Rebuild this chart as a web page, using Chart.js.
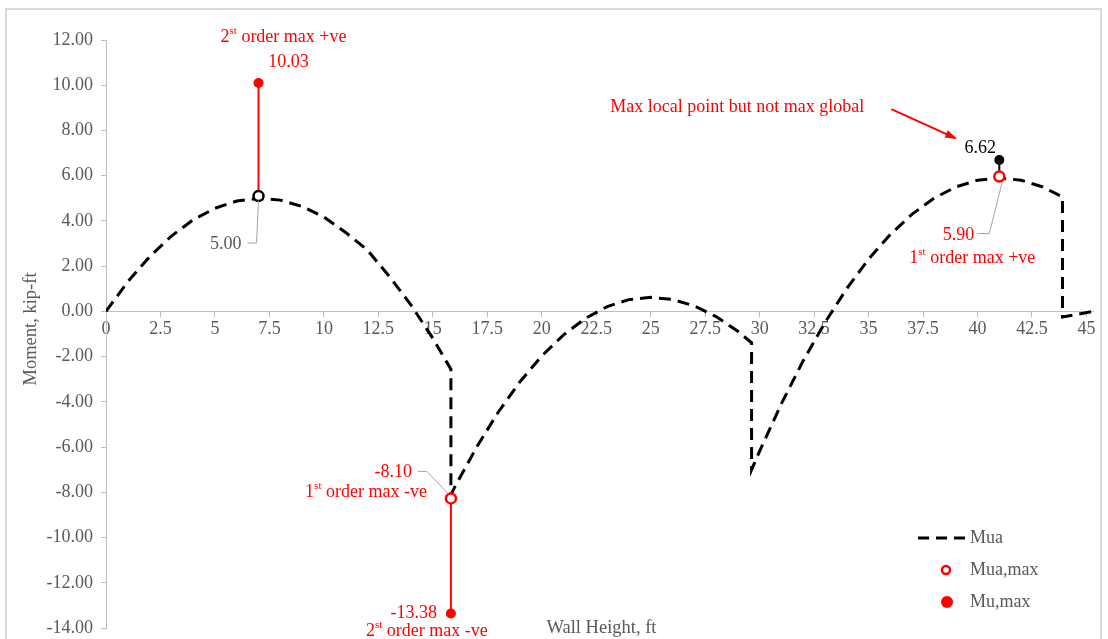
<!DOCTYPE html>
<html>
<head>
<meta charset="utf-8">
<script src="https://cdn.jsdelivr.net/npm/chart.js@4.4.1/dist/chart.umd.min.js"></script>
<style>
  html, body { margin: 0; padding: 0; background: #fff; }
  canvas { display: block; }
</style>
</head>
<body>
<canvas id="momentChart" width="1108" height="639"></canvas>
<script>
"use strict";

// Mua curve (wall height, ft / moment, kip-ft)
const muaX = [0, 1, 2, 3, 4, 5, 6, 7, 8, 9, 10, 11, 12, 13, 14, 15, 15.83,
    15.83, 16, 17, 18, 19, 20, 21, 22, 23, 24, 25, 26, 27, 28, 29, 29.63,
    29.63, 30, 31, 32, 33, 34, 35, 36, 37, 38, 39, 40, 41, 42, 43, 43.9,
    43.9, 45.3];
const muaY = [0, 1.31, 2.42, 3.33, 4.05, 4.56, 4.88, 5.00, 4.92, 4.64, 4.17, 3.49, 2.71, 1.55, 0.28, -1.19, -2.56,
    -8.10, -7.78, -6.02, -4.46, -3.11, -1.97, -1.04, -0.31, 0.21, 0.52, 0.62, 0.53, 0.24, -0.23, -0.88, -1.39,
    -7.00, -6.18, -4.08, -2.18, -0.49, 1.01, 2.31, 3.40, 4.30, 5.00, 5.50, 5.80, 5.90, 5.80, 5.50, 5.06,
    -0.25, 0.00];

// max points
const maxX = [7, 15.83, 41];
const muaMaxY = [5.1, -8.27, 5.96];
const muMaxY = [10.1, -13.36, 6.69];
const muaMaxLabels = ["5.00", "-8.10", "5.90"];
const muMaxLabels = ["10.03", "-13.38", "6.62"];

// axes
const xRange = [0, 45.3];
const yRange = [-14, 12];
const xStep = 2.5;
const yStep = 2;

const RED = "#ff0000";
const GREY = "#595959";
const FONT = "Liberation Serif, Times New Roman, serif";

const muaPoints = muaX.map((x, i) => ({ x: x, y: muaY[i] }));
const muaMaxPoints = maxX.map((x, i) => ({ x: x, y: muaMaxY[i] }));
const muMaxPoints = maxX.map((x, i) => ({ x: x, y: muMaxY[i] }));

// draws text with superscript parts, e.g. 2^st order ...
function drawRich(ctx, parts, x, y, align, color) {
    const big = "18px " + FONT;
    const small = "11px " + FONT;
    let w = 0;
    parts.forEach(p => {
        ctx.font = p.sup ? small : big;
        w += ctx.measureText(p.t).width;
    });
    let cx = align === "center" ? x - w / 2 : (align === "right" ? x - w : x);
    ctx.fillStyle = color;
    ctx.textAlign = "left";
    ctx.textBaseline = "middle";
    parts.forEach(p => {
        ctx.font = p.sup ? small : big;
        ctx.fillText(p.t, cx, p.sup ? y - 6 : y);
        cx += ctx.measureText(p.t).width;
    });
}

function leader(ctx, pts, color) {
    ctx.save();
    ctx.strokeStyle = color;
    ctx.lineWidth = 1;
    ctx.beginPath();
    pts.forEach((p, i) => i === 0 ? ctx.moveTo(p[0], p[1]) : ctx.lineTo(p[0], p[1]));
    ctx.stroke();
    ctx.restore();
}

const framePlugin = {
    id: "frame",
    beforeDraw(chart) {
        const ctx = chart.ctx;
        ctx.save();
        ctx.fillStyle = "#fff";
        ctx.fillRect(0, 0, chart.width, chart.height);
        ctx.strokeStyle = "#d9d9d9";
        ctx.lineWidth = 2;
        ctx.strokeRect(6, 9, 1095, 700);
        ctx.restore();
    }
};

const notesPlugin = {
    id: "notes",
    afterDraw(chart) {
        const ctx = chart.ctx;
        const xs = chart.scales.x, ys = chart.scales.y;
        const a = maxX.map((x, i) => [xs.getPixelForValue(x), ys.getPixelForValue(muaMaxY[i])]);
        const b = maxX.map((x, i) => [xs.getPixelForValue(x), ys.getPixelForValue(muMaxY[i])]);
        ctx.save();

        // 2nd order max +ve
        drawRich(ctx, [{ t: "2" }, { t: "st", sup: true }, { t: " order max +ve" }], b[0][0] + 25, b[0][1] - 46, "center", RED);
        drawRich(ctx, [{ t: muMaxLabels[0] }], b[0][0] + 30, b[0][1] - 21, "center", RED);
        // 5.00
        drawRich(ctx, [{ t: muaMaxLabels[0] }], a[0][0] - 17, a[0][1] + 48, "right", GREY);
        leader(ctx, [[a[0][0] - 11, a[0][1] + 47], [a[0][0] - 2, a[0][1] + 47], [a[0][0], a[0][1] + 5]], "#a6a6a6");

        // 1st order max -ve
        drawRich(ctx, [{ t: muaMaxLabels[1] }], a[1][0] - 39, a[1][1] - 26, "right", RED);
        leader(ctx, [[a[1][0] - 33, a[1][1] - 27], [a[1][0] - 24, a[1][1] - 27], [a[1][0] - 3, a[1][1] - 5]], "#a6a6a6");
        drawRich(ctx, [{ t: "1" }, { t: "st", sup: true }, { t: " order max -ve" }], a[1][0] - 24, a[1][1] - 6, "right", RED);
        // 2nd order max -ve
        drawRich(ctx, [{ t: muMaxLabels[1] }], b[1][0] - 14, b[1][1], "right", RED);
        drawRich(ctx, [{ t: "2" }, { t: "st", sup: true }, { t: " order max -ve" }], b[1][0] - 24, b[1][1] + 18, "center", RED);

        // 6.62 and 5.90
        drawRich(ctx, [{ t: muMaxLabels[2] }], b[2][0] - 19, b[2][1] - 12, "center", "#000");
        drawRich(ctx, [{ t: muaMaxLabels[2] }], a[2][0] - 25, a[2][1] + 59, "right", RED);
        leader(ctx, [[a[2][0] - 22, a[2][1] + 57], [a[2][0] - 10, a[2][1] + 57], [a[2][0] + 3, a[2][1] + 5]], "#a6a6a6");
        drawRich(ctx, [{ t: "1" }, { t: "st", sup: true }, { t: " order max +ve" }], a[2][0] - 27, a[2][1] + 82, "center", RED);

        // callout with arrow
        drawRich(ctx, [{ t: "Max local point but not max global" }], b[2][0] - 389, b[2][1] - 53, "left", RED);
        const x1 = b[2][0] - 108, y1 = b[2][1] - 51, x2 = b[2][0] - 44, y2 = b[2][1] - 22;
        ctx.strokeStyle = RED;
        ctx.fillStyle = RED;
        ctx.lineWidth = 2;
        ctx.beginPath();
        ctx.moveTo(x1, y1);
        ctx.lineTo(x2, y2);
        ctx.stroke();
        const ang = Math.atan2(y2 - y1, x2 - x1);
        ctx.beginPath();
        ctx.moveTo(x2 + 2 * Math.cos(ang), y2 + 2 * Math.sin(ang));
        ctx.lineTo(x2 - 10 * Math.cos(ang) + 4 * Math.sin(ang), y2 - 10 * Math.sin(ang) - 4 * Math.cos(ang));
        ctx.lineTo(x2 - 10 * Math.cos(ang) - 4 * Math.sin(ang), y2 - 10 * Math.sin(ang) + 4 * Math.cos(ang));
        ctx.closePath();
        ctx.fill();

        // axis titles
        ctx.font = "18.5px " + FONT;
        ctx.fillStyle = GREY;
        ctx.textAlign = "center";
        ctx.textBaseline = "middle";
        ctx.fillText("Wall Height, ft", (chart.chartArea.left + chart.chartArea.right) / 2 + 2, chart.chartArea.bottom);
        ctx.translate(31, chart.chartArea.top + 289);
        ctx.rotate(-Math.PI / 2);
        ctx.fillText("Moment, kip-ft", 0, 0);
        ctx.restore();
    }
};

const legendPlugin = {
    id: "boxLegend",
    afterDraw(chart) {
        const ctx = chart.ctx;
        const lx = chart.chartArea.right - 175;
        const ly = chart.chartArea.bottom - 90;
        ctx.save();
        ctx.strokeStyle = "#000";
        ctx.lineWidth = 3;
        ctx.setLineDash([11, 7]);
        ctx.beginPath();
        ctx.moveTo(lx, ly);
        ctx.lineTo(lx + 47, ly);
        ctx.stroke();
        ctx.setLineDash([]);
        ctx.strokeStyle = RED;
        ctx.lineWidth = 2.5;
        ctx.beginPath();
        ctx.arc(lx + 28, ly + 32, 4, 0, Math.PI * 2);
        ctx.stroke();
        ctx.fillStyle = RED;
        ctx.beginPath();
        ctx.arc(lx + 29, ly + 64, 6, 0, Math.PI * 2);
        ctx.fill();
        ctx.font = "18px " + FONT;
        ctx.fillStyle = GREY;
        ctx.textAlign = "left";
        ctx.textBaseline = "middle";
        ctx.fillText("Mua", lx + 52, ly);
        ctx.fillText("Mua,max", lx + 52, ly + 32);
        ctx.fillText("Mu,max", lx + 52, ly + 64);
        ctx.restore();
    }
};

new Chart("momentChart", {
    type: "scatter",
    data: {
        datasets: [{
            label: "Mua",
            data: muaPoints,
            showLine: true,
            borderColor: "#000",
            borderWidth: 3,
            borderDash: [12, 7],
            pointRadius: 0,
            tension: 0,
            order: 3
        }, {
            label: "link +ve",
            data: [muaMaxPoints[0], muMaxPoints[0]],
            showLine: true,
            borderColor: RED,
            borderWidth: 2,
            pointRadius: 0,
            order: 2
        }, {
            label: "link -ve",
            data: [muaMaxPoints[1], muMaxPoints[1]],
            showLine: true,
            borderColor: RED,
            borderWidth: 2,
            pointRadius: 0,
            order: 2
        }, {
            label: "link local",
            data: [muaMaxPoints[2], muMaxPoints[2]],
            showLine: true,
            borderColor: "#000",
            borderWidth: 2,
            pointRadius: 0,
            order: 2
        }, {
            label: "Mua,max",
            data: muaMaxPoints,
            pointRadius: 5,
            pointBorderWidth: 2.5,
            pointBackgroundColor: "#fff",
            pointBorderColor: ["#000", RED, RED],
            order: 1
        }, {
            label: "Mu,max",
            data: muMaxPoints,
            pointRadius: 5,
            pointBorderWidth: 0,
            pointBackgroundColor: [RED, RED, "#000"],
            order: 0
        }]
    },
    options: {
        responsive: false,
        animation: false,
        layout: { padding: { left: 0, top: 40, right: 15, bottom: 11 } },
        plugins: {
            legend: { display: false },
            tooltip: { enabled: false }
        },
        scales: {
            x: {
                type: "linear",
                position: { y: 0 },
                min: xRange[0],
                max: xRange[1],
                afterFit: s => { s.paddingLeft = 0; s.paddingRight = 0; },
                grid: { drawOnChartArea: false, drawTicks: true, tickLength: 5, color: "#bfbfbf" },
                border: { color: "#bfbfbf", width: 1 },
                ticks: {
                    stepSize: xStep,
                    includeBounds: false,
                    maxRotation: 0,
                    autoSkip: false,
                    padding: 2,
                    color: GREY,
                    font: { family: FONT, size: 18 },
                    callback: v => String(v)
                }
            },
            y: {
                type: "linear",
                position: "left",
                min: yRange[0],
                max: yRange[1],
                afterFit: s => { s.width = 106; s.paddingTop = 0; s.paddingBottom = 0; },
                grid: { drawOnChartArea: false, drawTicks: true, tickLength: 5, color: "#bfbfbf" },
                border: { color: "#bfbfbf", width: 1 },
                ticks: {
                    stepSize: yStep,
                    padding: 8,
                    color: GREY,
                    font: { family: FONT, size: 18 },
                    callback: v => v.toFixed(2)
                }
            }
        }
    },
    plugins: [framePlugin, notesPlugin, legendPlugin]
});
</script>
</body>
</html>
